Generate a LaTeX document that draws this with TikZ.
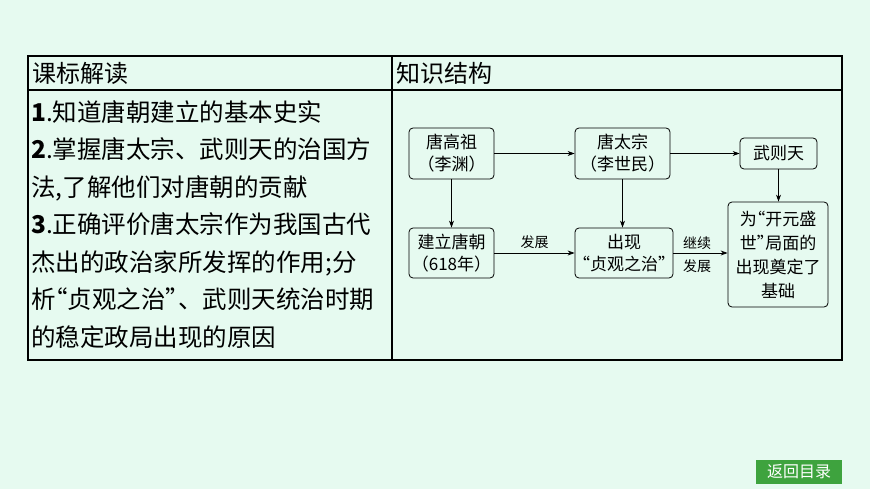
\documentclass[tikz,border=0pt]{standalone}
\usepackage{fontspec}
\setmainfont{Noto Sans CJK SC}
\usetikzlibrary{arrows.meta}
\definecolor{bgColor}{RGB}{230,250,240}
\definecolor{btnColor}{RGB}{62,163,62}
\newcommand{\oq}{\makebox[0.5em][r]{“}}
\newcommand{\cq}{\makebox[0.5em][l]{”}}
\tikzset{
  box/.style={draw,rounded corners=4pt,line width=0.8pt,align=center,font=\fontsize{17}{22}\selectfont,inner sep=1pt},
  arr/.style={-{Stealth[length=7pt,width=5pt]},line width=0.8pt},
  lab/.style={font=\fontsize{14}{18}\selectfont,inner sep=1pt}
}
\begin{document}
\begin{tikzpicture}[x=1pt,y=-1pt]
\path[use as bounding box,fill=bgColor] (0,0) rectangle (870,489);
% table frame
\draw[line width=1.6pt] (28,56) rectangle (842,360);
\draw[line width=1.2pt] (28,90) -- (842,90);
\draw[line width=1.2pt] (392,56) -- (392,360);
\node[anchor=west,inner sep=0pt,font=\fontsize{24}{24}\selectfont] (hl) at (32,73) {课标解读};
\node[anchor=west,inner sep=0pt,font=\fontsize{24}{24}\selectfont] (hr) at (396,73) {知识结构};
\node[anchor=north west,inner sep=0pt,align=left,font=\fontsize{24.5}{37.5}\selectfont] (txt) at (31,100) {%
\textbf{1}.知道唐朝建立的基本史实\\
\textbf{2}.掌握唐太宗、武则天的治国方\\
法,了解他们对唐朝的贡献\\
\textbf{3}.正确评价唐太宗作为我国古代\\
杰出的政治家所发挥的作用;分\\
析\oq 贞观之治\cq、武则天统治时期\\
的稳定政局出现的原因};
% flow chart
\node[box,minimum width=85pt,minimum height=51pt] (gaozu) at (451.5,153.5) {唐高祖\\（李渊）};
\node[box,minimum width=95pt,minimum height=51pt] (taizong) at (622.5,153.5) {唐太宗\\（李世民）};
\node[box,minimum width=77pt,minimum height=31pt] (wzt) at (778.5,153.5) {武则天};
\node[box,minimum width=85pt,minimum height=50pt] (jianli) at (451.5,253) {建立唐朝\\（618年）};
\node[box,minimum width=98pt,minimum height=50pt] (zhenguan) at (624,253) {出现\\\oq 贞观之治\cq};
\node[box,minimum width=100pt,minimum height=105pt,font=\fontsize{17}{24}\selectfont] (kaiyuan) at (778,254.5) {为\oq 开元盛\\世\cq 局面的\\出现奠定了\\基础};
\draw[arr] (gaozu) -- (taizong);
\draw[arr] (taizong) -- (wzt);
\draw[arr] (gaozu) -- (jianli);
\draw[arr] (taizong.south) -- (taizong.south |- zhenguan.north);
\draw[arr] (wzt) -- (wzt |- kaiyuan.north);
\draw[arr] (jianli) -- node[lab,above=3pt] (fz) {发展} (zhenguan);
\draw[arr] (zhenguan) -- (kaiyuan.west |- zhenguan);
\node[lab] (jx) at (697,243) {继续};
\node[lab] (fz2) at (697,266) {发展};
% back button
\node[fill=btnColor,text=white,minimum width=86pt,minimum height=24pt,inner sep=0pt,font=\fontsize{16}{16}\selectfont] (back) at (799,472) {返回目录};
\end{tikzpicture}
\end{document}
